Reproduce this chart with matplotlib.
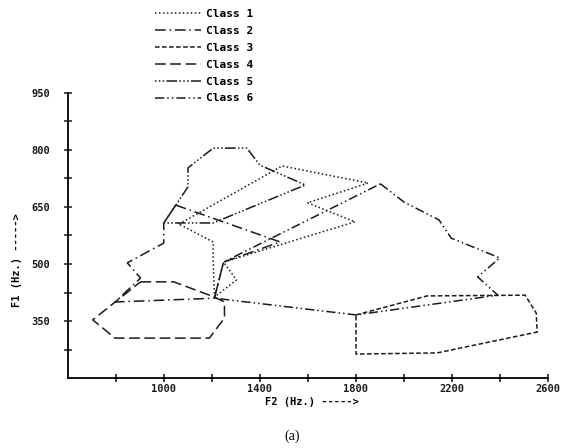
import matplotlib
matplotlib.use('Agg')
import matplotlib.pyplot as plt

# F2 (x) / F1 (y) boundary points of each class region, in Hz
c1_f2 = [1062, 1492, 1851, 1598, 1796, 1248, 1302, 1210, 1205, 1205]
c1_f1 = [605, 758, 713, 661, 611, 505, 458, 413, 511, 558]

c2_f2 = [1049, 1484, 1248, 1210, 796, 902, 847, 999, 999]
c2_f1 = [655, 558, 505, 410, 400, 463, 503, 555, 608]

c3_f2 = [1800, 2096, 2505, 2551, 2555, 2138, 1800]
c3_f1 = [366, 416, 418, 371, 321, 266, 263]

c4_f2 = [902, 1041, 1210, 1252, 1252, 1189, 796, 703]
c4_f1 = [453, 453, 413, 400, 358, 305, 305, 353]

c5_f2 = [1049, 1100, 1100, 1205, 1345, 1400, 1589, 1205, 999]
c5_f1 = [655, 703, 753, 805, 805, 760, 708, 608, 608]

c6_f2 = [1902, 2000, 2146, 2197, 2399, 2307, 2391, 1800, 1210, 1248]
c6_f1 = [711, 663, 616, 568, 516, 466, 418, 366, 410, 505]

labels = ['Class 1', 'Class 2', 'Class 3', 'Class 4', 'Class 5', 'Class 6']
x_ticks = list(range(800, 2601, 200))
x_labels = ['', '1000', '', '1400', '', '1800', '', '2200', '', '2600']
y_ticks = list(range(275, 951, 75))
y_labels = ['', '350', '', '500', '', '650', '', '800', '', '950']

styles = [(0, (1, 1.6)),
          (0, (7, 2.5, 1, 2.5)),
          (0, (3, 1.6)),
          (0, (7, 3)),
          (0, (1, 1.5, 1, 1.5, 1, 1.5, 7, 1.5)),
          (0, (6, 2, 1, 2, 1, 2))]

classes = [(c1_f2, c1_f1), (c2_f2, c2_f1), (c3_f2, c3_f1),
           (c4_f2, c4_f1), (c5_f2, c5_f1), (c6_f2, c6_f1)]

fig = plt.figure(figsize=(5.68, 4.48), dpi=100)
ax = fig.add_axes([68 / 568, 70 / 448, 480 / 568, 285 / 448])

ink = '#1a1a1a'
handles = []
for (xs, ys), ls, lab in zip(classes, styles, labels):
    h, = ax.plot(xs + xs[:1], ys + ys[:1], color=ink, lw=1.1, linestyle=ls, label=lab)
    handles.append(h)

ax.set_xlim(600, 2600)
ax.set_ylim(200, 950)
ax.spines['top'].set_visible(False)
ax.spines['right'].set_visible(False)
ax.spines['left'].set_linewidth(1.3)
ax.spines['bottom'].set_linewidth(1.3)

mono = {'family': 'DejaVu Sans Mono', 'weight': 'bold', 'size': 7.5}
ax.set_xticks(x_ticks)
ax.set_xticklabels(x_labels, fontdict=mono)
ax.set_yticks(y_ticks)
ax.set_yticklabels(y_labels, fontdict=mono)
ax.tick_params(axis='x', direction='inout', length=6, width=1.1, pad=1, colors=ink)
ax.tick_params(axis='y', direction='inout', length=6, width=1.1, pad=10, colors=ink)

fig.text(312 / 568, 1 - 402 / 448, 'F2 (Hz.) ----->', ha='center', va='center', **mono)
fig.text(17 / 568, 1 - 260 / 448, 'F1 (Hz.) ----->', ha='center', va='center',
         rotation=90, **mono)
fig.text(292 / 568, 1 - 436 / 448, '(a)', ha='center', va='center',
         family='Liberation Serif', size=10)

fig.legend(handles=handles, loc='upper left', bbox_to_anchor=(145 / 568, 1 + 1 / 448),
           frameon=False, handlelength=4.1, handletextpad=0.5, labelspacing=0.62,
           prop={'family': 'DejaVu Sans Mono', 'weight': 'bold', 'size': 8})

fig.savefig('out.png', dpi=100)
